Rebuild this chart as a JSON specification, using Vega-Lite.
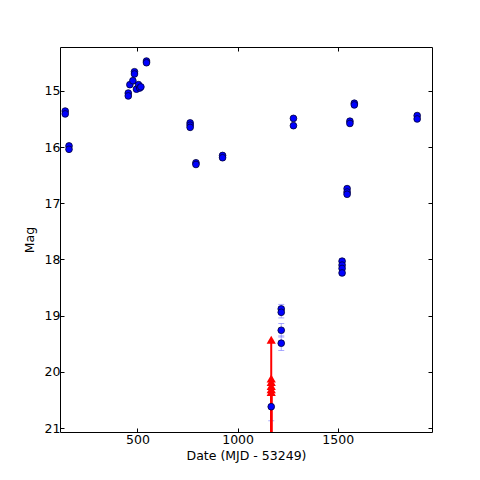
{
  "$schema": "https://vega.github.io/schema/vega-lite/v6.json",
  "autosize": "none",
  "width": 372,
  "height": 385,
  "padding": {"left": 60, "top": 47, "right": 48, "bottom": 48},
  "background": "white",
  "config": {
    "view": {"stroke": "black", "strokeWidth": 1},
    "font": "DejaVu Sans",
    "axis": {
      "grid": false, "domain": false, "tickColor": "black", "tickSize": -4,
      "labelFont": "DejaVu Sans", "labelFontSize": 12.5, "labelColor": "black",
      "titleFont": "DejaVu Sans", "titleFontSize": 12.5, "titleFontWeight": "normal", "titleColor": "black"
    }
  },
  "datasets": {
    "det": [
      {"t": 139, "mag": 15.36, "err": 0.02},
      {"t": 139, "mag": 15.41, "err": 0.02},
      {"t": 158, "mag": 15.98, "err": 0.02},
      {"t": 158, "mag": 16.04, "err": 0.02},
      {"t": 454, "mag": 15.04, "err": 0.02},
      {"t": 454, "mag": 15.09, "err": 0.02},
      {"t": 462, "mag": 14.89, "err": 0.02},
      {"t": 477, "mag": 14.82, "err": 0.02},
      {"t": 485, "mag": 14.66, "err": 0.02},
      {"t": 485, "mag": 14.70, "err": 0.02},
      {"t": 495, "mag": 14.97, "err": 0.02},
      {"t": 505, "mag": 14.89, "err": 0.02},
      {"t": 511, "mag": 14.95, "err": 0.02},
      {"t": 517, "mag": 14.93, "err": 0.02},
      {"t": 545, "mag": 14.47, "err": 0.02},
      {"t": 545, "mag": 14.50, "err": 0.02},
      {"t": 763, "mag": 15.57, "err": 0.02},
      {"t": 763, "mag": 15.61, "err": 0.02},
      {"t": 763, "mag": 15.65, "err": 0.02},
      {"t": 792, "mag": 16.28, "err": 0.02},
      {"t": 792, "mag": 16.31, "err": 0.02},
      {"t": 925, "mag": 16.15, "err": 0.02},
      {"t": 925, "mag": 16.19, "err": 0.02},
      {"t": 1279, "mag": 15.49, "err": 0.02},
      {"t": 1279, "mag": 15.62, "err": 0.02},
      {"t": 1522, "mag": 18.03, "err": 0.04},
      {"t": 1522, "mag": 18.10, "err": 0.04},
      {"t": 1522, "mag": 18.16, "err": 0.04},
      {"t": 1522, "mag": 18.24, "err": 0.04},
      {"t": 1547, "mag": 16.74, "err": 0.03},
      {"t": 1547, "mag": 16.80, "err": 0.03},
      {"t": 1547, "mag": 16.84, "err": 0.03},
      {"t": 1561, "mag": 15.54, "err": 0.02},
      {"t": 1561, "mag": 15.58, "err": 0.02},
      {"t": 1583, "mag": 15.22, "err": 0.02},
      {"t": 1583, "mag": 15.25, "err": 0.02},
      {"t": 1897, "mag": 15.44, "err": 0.02},
      {"t": 1897, "mag": 15.50, "err": 0.02},
      {"t": 1218, "mag": 18.88, "err": 0.08},
      {"t": 1218, "mag": 18.94, "err": 0.1},
      {"t": 1218, "mag": 19.26, "err": 0.12},
      {"t": 1218, "mag": 19.49, "err": 0.13},
      {"t": 1168, "mag": 20.62, "err": 0.25}
    ],
    "lim": [
      {"t": 1168, "mag": 19.43},
      {"t": 1168, "mag": 20.12},
      {"t": 1168, "mag": 20.18},
      {"t": 1168, "mag": 20.25},
      {"t": 1168, "mag": 20.31},
      {"t": 1168, "mag": 20.36}
    ]
  },
  "layer": [
    {
      "data": {"name": "det"},
      "mark": {"type": "errorbar", "ticks": {"size": 6}, "color": "#8888ff", "opacity": 0.7},
      "encoding": {
        "x": {"field": "t", "type": "quantitative", "scale": {"domain": [113, 1971], "nice": false, "zero": false},
              "axis": {"orient": "bottom", "values": [500, 1000, 1500], "format": "d", "title": "Date (MJD - 53249)", "labelPadding": 5, "titlePadding": 4}},
        "y": {"field": "mag", "type": "quantitative", "scale": {"domain": [14.22, 21.07], "reverse": true, "nice": false, "zero": false},
              "axis": {"orient": "left", "values": [15, 16, 17, 18, 19, 20, 21], "format": "d", "title": "Mag", "labelPadding": 4, "titlePadding": 8}},
        "yError": {"field": "err"}
      }
    },
    {
      "data": {"name": "lim"},
      "mark": {"type": "rule", "color": "red", "strokeWidth": 2, "clip": true},
      "encoding": {
        "x": {"field": "t", "type": "quantitative", "axis": null},
        "y": {"field": "mag", "type": "quantitative", "axis": null},
        "y2": {"datum": 21.3}
      }
    },
    {
      "data": {"name": "lim"},
      "mark": {"type": "point", "shape": "triangle-up", "filled": true, "color": "red", "size": 85, "opacity": 1},
      "encoding": {
        "x": {"field": "t", "type": "quantitative", "axis": null},
        "y": {"field": "mag", "type": "quantitative", "axis": null}
      }
    },
    {
      "data": {"name": "det"},
      "mark": {"type": "point", "shape": "circle", "filled": true, "fill": "#0000ff", "stroke": "#000033", "strokeWidth": 0.8, "size": 45, "opacity": 1},
      "encoding": {
        "x": {"field": "t", "type": "quantitative", "axis": {"orient": "top", "values": [500, 1000, 1500], "labels": false, "title": null}},
        "y": {"field": "mag", "type": "quantitative", "axis": {"orient": "right", "values": [15, 16, 17, 18, 19, 20, 21], "labels": false, "title": null}}
      }
    }
  ],
  "resolve": {"axis": {"x": "independent", "y": "independent"}}
}
